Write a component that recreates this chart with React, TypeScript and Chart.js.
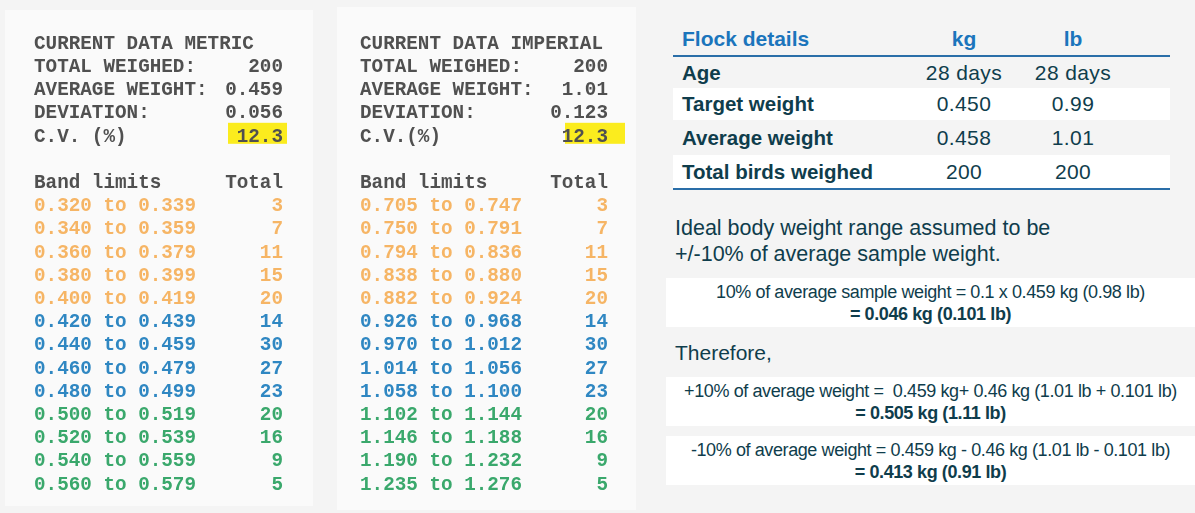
import React, { useEffect, useRef } from "react";
import { Chart, registerables } from "chart.js";

Chart.register(...registerables);

// ---------- DATA ----------
const metricTitle = "CURRENT DATA METRIC";
const imperialTitle = "CURRENT DATA IMPERIAL";
const summaryLabelsMetric = ["TOTAL WEIGHED:", "AVERAGE WEIGHT:", "DEVIATION:", "C.V. (%)"];
const summaryLabelsImperial = ["TOTAL WEIGHED:", "AVERAGE WEIGHT:", "DEVIATION:", "C.V.(%)"];
const summaryValuesMetric = ["200", "0.459", "0.056", "12.3"];
const summaryValuesImperial = ["200", "1.01", "0.123", "12.3"];
const bandHeader = ["Band limits", "Total"];
const metricBands = [
  "0.320 to 0.339", "0.340 to 0.359", "0.360 to 0.379", "0.380 to 0.399", "0.400 to 0.419",
  "0.420 to 0.439", "0.440 to 0.459", "0.460 to 0.479", "0.480 to 0.499",
  "0.500 to 0.519", "0.520 to 0.539", "0.540 to 0.559", "0.560 to 0.579",
];
const imperialBands = [
  "0.705 to 0.747", "0.750 to 0.791", "0.794 to 0.836", "0.838 to 0.880", "0.882 to 0.924",
  "0.926 to 0.968", "0.970 to 1.012", "1.014 to 1.056", "1.058 to 1.100",
  "1.102 to 1.144", "1.146 to 1.188", "1.190 to 1.232", "1.235 to 1.276",
];
const bandTotals = [3, 7, 11, 15, 20, 14, 30, 27, 23, 20, 16, 9, 5];
// 0 = under, 1 = ideal, 2 = over
const bandGroup = [0, 0, 0, 0, 0, 1, 1, 1, 1, 2, 2, 2, 2];

const flockHeader = ["Flock details", "kg", "lb"];
const flockLabels = ["Age", "Target weight", "Average weight", "Total birds weighed"];
const flockKg = ["28 days", "0.450", "0.458", "200"];
const flockLb = ["28 days", "0.99", "1.01", "200"];

const introLines = ["Ideal body weight range assumed to be", "+/-10% of average sample weight."];
const formulaBoxes = [
  ["10% of average sample weight = 0.1 x 0.459 kg (0.98 lb)", "= 0.046 kg (0.101 lb)"],
  ["+10% of average weight =  0.459 kg+ 0.46 kg (1.01 lb + 0.101 lb)", "= 0.505 kg (1.11 lb)"],
  ["-10% of average weight = 0.459 kg - 0.46 kg (1.01 lb - 0.101 lb)", "= 0.413 kg (0.91 lb)"],
];
const thereforeText = "Therefore,";

// ---------- STYLE ----------
const GREY = "#505050";
const groupColors = ["#f6b565", "#2f87c2", "#3aa86c"];
const HIGHLIGHT = "#fbec1e";
const TEAL = "#0f3d4c";
const BLUE = "#1b75bc";
const LINE = "#2a6ea8";

type ReceiptProps = {
  title: string;
  sLabels: string[];
  sValues: string[];
  bands: string[];
  left: number;
  canvasW: number;
  padLeft: number;
  padRight: number;
  hlLeft: number;
  hlRight: number;
};

function Receipt(p: ReceiptProps) {
  const ref = useRef<HTMLCanvasElement | null>(null);
  useEffect(() => {
    if (!ref.current) return;
    const leftLabels = [p.title, ...p.sLabels, "", bandHeader[0], ...p.bands];
    const rightLabels = ["", ...p.sValues, "", bandHeader[1], ...bandTotals.map(String)];
    const colorFor = (i: number) => (i < 7 ? GREY : groupColors[bandGroup[i - 7]]);
    const data = [null, null, null, null, null, null, null, ...bandTotals];
    const font = { family: '"Liberation Mono", "Courier New", monospace', size: 19.3, weight: "bold" as const };
    const highlight = {
      id: "cvHighlight",
      beforeDraw(chart: any) {
        const area = chart.chartArea;
        const yc = chart.scales.y2.getPixelForValue(4);
        const ctx = chart.ctx;
        ctx.save();
        ctx.fillStyle = HIGHLIGHT;
        ctx.fillRect(area.right + p.hlLeft, yc - 14, p.hlRight - p.hlLeft, 21);
        ctx.restore();
      },
    };
    const tickOpts = {
      autoSkip: false,
      mirror: true,
      crossAlign: "near",
      padding: 0,
      font,
      color: (c: any) => colorFor(c.index),
    };
    const gridOpts = { display: false, drawTicks: false, tickLength: 0 };
    const chart = new Chart(ref.current, {
      type: "bar",
      data: {
        labels: leftLabels,
        datasets: [
          {
            data: data as any,
            backgroundColor: "rgba(0,0,0,0)",
            borderWidth: 0,
            yAxisID: "y",
            xAxisID: "x",
          },
        ],
      },
      options: {
        indexAxis: "y",
        animation: false,
        responsive: false,
        devicePixelRatio: 1,
        events: [],
        layout: { padding: { left: p.padLeft, right: p.padRight, top: 32.4, bottom: 16.6 } },
        plugins: { legend: { display: false }, tooltip: { enabled: false }, title: { display: false } },
        scales: {
          x: { display: false, min: 0, max: 40 },
          y: {
            type: "category",
            position: "left",
            labels: leftLabels,
            offset: true,
            grid: gridOpts,
            border: { display: false },
            ticks: tickOpts,
          },
          y2: {
            type: "category",
            position: "right",
            labels: rightLabels,
            offset: true,
            min: 0,
            max: rightLabels.length - 1,
            grid: gridOpts,
            border: { display: false },
            ticks: tickOpts,
          },
        },
      },
      plugins: [highlight],
    } as any);
    return () => chart.destroy();
  }, []);
  return (
    <canvas
      ref={ref}
      width={p.canvasW}
      height={513}
      style={{ position: "absolute", left: p.left, top: 0, width: p.canvasW, height: 513 }}
    />
  );
}

const sans = '"Liberation Sans", Arial, Helvetica, sans-serif';

export default function App() {
  const rowTops = [57, 88, 120, 155];
  const rowHeights = [31, 32, 35, 33];
  const boxTops = [278, 377, 436];
  return (
    <div
      style={{
        position: "fixed",
        left: 0,
        top: 0,
        width: 1195,
        height: 513,
        overflow: "hidden",
        background: "#f4f4f4",
        fontFamily: sans,
      }}
    >
      {/* receipt papers */}
      <div style={{ position: "absolute", left: 5, top: 10, width: 308, height: 496, background: "#fafafa" }} />
      <div style={{ position: "absolute", left: 337, top: 7, width: 299, height: 503, background: "#fafafa" }} />
      <Receipt
        title={metricTitle}
        sLabels={summaryLabelsMetric}
        sValues={summaryValuesMetric}
        bands={metricBands}
        left={0}
        canvasW={330}
        padLeft={34}
        padRight={47}
        hlLeft={-55}
        hlRight={4}
      />
      <Receipt
        title={imperialTitle}
        sLabels={summaryLabelsImperial}
        sValues={summaryValuesImperial}
        bands={imperialBands}
        left={330}
        canvasW={330}
        padLeft={30}
        padRight={52}
        hlLeft={-43}
        hlRight={17}
      />

      {/* flock details table */}
      <div style={{ position: "absolute", left: 682, top: 27, fontSize: 21, fontWeight: "bold", color: BLUE, lineHeight: "24px" }}>
        {flockHeader[0]}
      </div>
      <div style={{ position: "absolute", left: 904, width: 120, textAlign: "center", top: 27, fontSize: 21, fontWeight: "bold", color: BLUE, lineHeight: "24px" }}>
        {flockHeader[1]}
      </div>
      <div style={{ position: "absolute", left: 1013, width: 120, textAlign: "center", top: 27, fontSize: 21, fontWeight: "bold", color: BLUE, lineHeight: "24px" }}>
        {flockHeader[2]}
      </div>
      <div style={{ position: "absolute", left: 673, top: 55, width: 497, height: 2, background: LINE }} />
      {flockLabels.map((lab, i) => {
        const top = rowTops[i];
        const h = rowHeights[i];
        return (
          <div
            key={lab}
            style={{
              position: "absolute",
              left: 673,
              top,
              width: 497,
              height: h,
              background: i % 2 === 1 ? "#ffffff" : "transparent",
              color: TEAL,
              fontSize: 20.5,
              lineHeight: h + "px",
            }}
          >
            <span style={{ position: "absolute", left: 9, fontWeight: "bold" }}>{lab}</span>
            <span style={{ position: "absolute", left: 231, width: 120, textAlign: "center", fontSize: 21, letterSpacing: 0.4 }}>{flockKg[i]}</span>
            <span style={{ position: "absolute", left: 340, width: 120, textAlign: "center", fontSize: 21, letterSpacing: 0.4 }}>{flockLb[i]}</span>
          </div>
        );
      })}
      <div style={{ position: "absolute", left: 673, top: 188, width: 497, height: 2, background: LINE }} />

      {/* intro text */}
      <div style={{ position: "absolute", left: 675, top: 216, fontSize: 21.5, lineHeight: "25.5px", color: TEAL }}>
        {introLines.map((l) => (
          <div key={l}>{l}</div>
        ))}
      </div>

      {/* formula boxes */}
      {formulaBoxes.map((b, i) => (
        <div
          key={i}
          style={{
            position: "absolute",
            left: 666,
            top: boxTops[i],
            width: 529,
            height: 49,
            background: "#ffffff",
            color: TEAL,
            fontSize: 18,
            lineHeight: "22px",
            textAlign: "center",
            paddingTop: 3,
            boxSizing: "border-box",
            letterSpacing: -0.4,
          }}
        >
          <div style={{ whiteSpace: "pre" }}>{b[0]}</div>
          <div style={{ fontWeight: "bold" }}>{b[1]}</div>
        </div>
      ))}
      <div style={{ position: "absolute", left: 675, top: 340, fontSize: 21, lineHeight: "26px", color: TEAL }}>
        {thereforeText}
      </div>
    </div>
  );
}
